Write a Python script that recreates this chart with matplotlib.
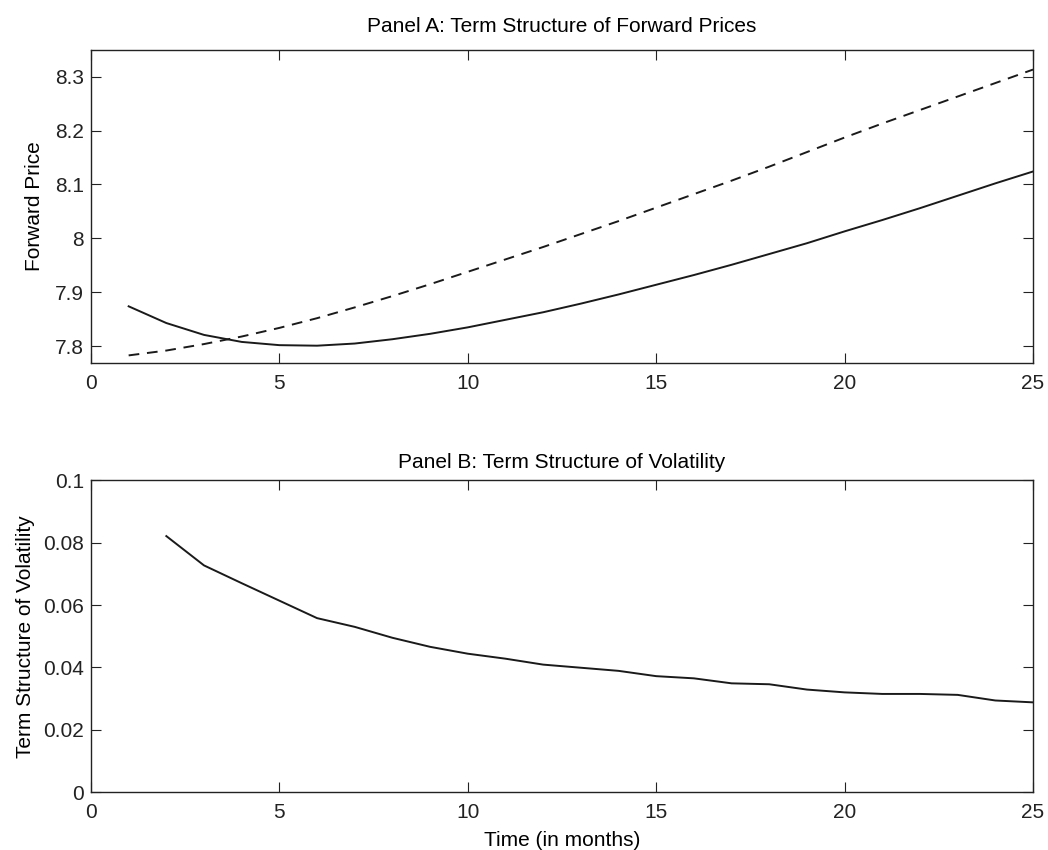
import numpy as np
import matplotlib
matplotlib.use("Agg")
import matplotlib.pyplot as plt

plt.rcParams['font.family'] = ['Liberation Sans', 'DejaVu Sans']

# Panel A: forward prices by maturity (months)
months_a = list(range(1, 26))
fwd_solid = [7.874, 7.843, 7.821, 7.808, 7.802, 7.801, 7.805, 7.813, 7.823, 7.835,
             7.849, 7.863, 7.879, 7.896, 7.914, 7.932, 7.951, 7.971, 7.991, 8.013,
             8.034, 8.056, 8.079, 8.102, 8.124]
fwd_dashed = [7.783, 7.792, 7.804, 7.818, 7.834, 7.852, 7.872, 7.893, 7.915, 7.938,
              7.961, 7.984, 8.008, 8.032, 8.057, 8.082, 8.107, 8.133, 8.160, 8.187,
              8.213, 8.238, 8.263, 8.288, 8.313]

# Panel B: volatility term structure
months_b = list(range(2, 26))
vol = [0.0821, 0.0727, 0.0670, 0.0614, 0.0558, 0.0530, 0.0495, 0.0466, 0.0444, 0.0428,
       0.0409, 0.0399, 0.0389, 0.0372, 0.0365, 0.0349, 0.0346, 0.0329, 0.0320, 0.0315,
       0.0315, 0.0312, 0.0294, 0.0288]

xticks = [0, 5, 10, 15, 20, 25]
yticks_a = [7.8, 7.9, 8.0, 8.1, 8.2, 8.3]
yticklabels_a = ["7.8", "7.9", "8", "8.1", "8.2", "8.3"]
yticks_b = [0, 0.02, 0.04, 0.06, 0.08, 0.1]
yticklabels_b = ["0", "0.02", "0.04", "0.06", "0.08", "0.1"]

FS = 15

fig = plt.figure(figsize=(10.48, 8.5), dpi=100)
ax1 = fig.add_axes([0.0868, 0.573, 0.8989, 0.368])
ax2 = fig.add_axes([0.0868, 0.068, 0.8989, 0.367])


def style(ax):
    ax.tick_params(direction='in', top=True, right=True, length=7, width=0.8,
                   labelsize=FS, colors='#222222')
    ax.tick_params(axis='x', pad=8)
    ax.tick_params(axis='y', pad=5)
    for s in ax.spines.values():
        s.set_linewidth(1.0)
        s.set_color('#222222')


# -------------------------
# Panel A
# -------------------------
ax1.plot(months_a, fwd_solid, color='#1a1a1a', lw=1.4)
ax1.plot(months_a, fwd_dashed, color='#1a1a1a', lw=1.4, dashes=(5.5, 4))
ax1.set_xlim(0, 25)
ax1.set_ylim(7.769, 8.349)
ax1.set_xticks(xticks)
ax1.set_yticks(yticks_a)
ax1.set_yticklabels(yticklabels_a)
ax1.set_ylabel("Forward Price", fontsize=FS, labelpad=8)
ax1.set_title("Panel A: Term Structure of Forward Prices", fontsize=FS, pad=13)
style(ax1)

# -------------------------
# Panel B
# -------------------------
ax2.plot(months_b, vol, color='#1a1a1a', lw=1.4)
ax2.set_xlim(0, 25)
ax2.set_ylim(0, 0.1)
ax2.set_xticks(xticks)
ax2.set_yticks(yticks_b)
ax2.set_yticklabels(yticklabels_b)
ax2.set_ylabel("Term Structure of Volatility", fontsize=FS, labelpad=6)
ax2.set_xlabel("Time (in months)", fontsize=FS, labelpad=6)
ax2.set_title("Panel B: Term Structure of Volatility", fontsize=FS, pad=9)
style(ax2)

fig.savefig("out.png", dpi=100)
